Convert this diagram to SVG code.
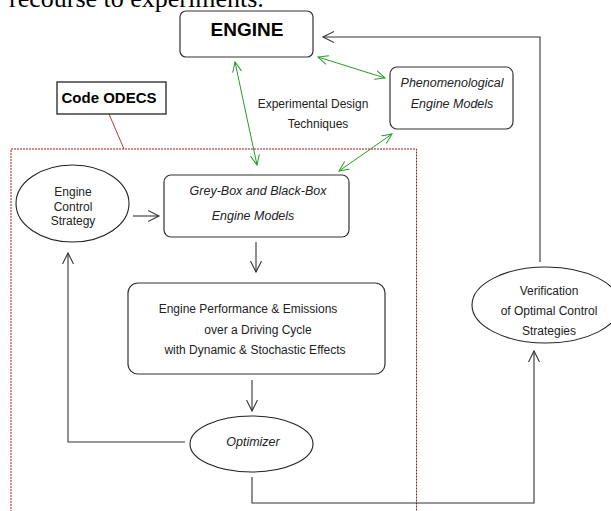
<svg xmlns="http://www.w3.org/2000/svg" width="611" height="511" viewBox="0 0 611 511">
<style>
.t{font-family:"Liberation Sans",Arial,sans-serif;font-size:12px;fill:#222;text-anchor:middle}
.i{font-style:italic;font-size:12.5px}
.b{font-weight:bold;fill:#000}
.box{fill:#fff;stroke:#333;stroke-width:1.2}
.ln{fill:none;stroke:#333;stroke-width:1.1}
.gr{fill:none;stroke:#2a9a2a;stroke-width:1}
</style>
<defs>
<marker id="ah" markerUnits="userSpaceOnUse" markerWidth="14" markerHeight="14" refX="11" refY="6" orient="auto">
<path d="M0,0.5 L11,6 L0,11.5" fill="none" stroke="#333" stroke-width="1.1"/>
</marker>
<marker id="gh" markerUnits="userSpaceOnUse" markerWidth="14" markerHeight="14" refX="10" refY="5" orient="auto-start-reverse">
<path d="M0,0.5 L10,5 L0,9.5" fill="none" stroke="#2a9a2a" stroke-width="1"/>
</marker>
</defs>
<rect width="611" height="511" fill="#fff"/>
<text x="9" y="7" style="font-family:'Liberation Serif','Times New Roman',serif;font-size:26px;fill:#000">recourse to experiments.</text>

<g id="odecs-frame">
<rect x="11" y="149" width="405.5" height="400" fill="none" stroke="#a01818" stroke-width="1" stroke-dasharray="2,1"/>
<line x1="109" y1="114" x2="124" y2="149" stroke="#a52a2a" stroke-width="0.9"/>
</g>

<g id="connectors">
<polyline class="ln" points="540,262 540,37 323,37" marker-end="url(#ah)"/>
<line class="ln" x1="133" y1="216" x2="159" y2="216" marker-end="url(#ah)"/>
<line class="ln" x1="256" y1="242" x2="256" y2="272" marker-end="url(#ah)"/>
<line class="ln" x1="252" y1="380" x2="252" y2="411" marker-end="url(#ah)"/>
<polyline class="ln" points="185,442 68,442 68,253" marker-end="url(#ah)"/>
<polyline class="ln" points="252,477 252,503 534,503 534,351" marker-end="url(#ah)"/>
<line class="gr" x1="235" y1="62" x2="257" y2="165" marker-start="url(#gh)" marker-end="url(#gh)"/>
<line class="gr" x1="318" y1="57" x2="385" y2="78" marker-start="url(#gh)" marker-end="url(#gh)"/>
<line class="gr" x1="339" y1="171" x2="392" y2="134" marker-start="url(#gh)" marker-end="url(#gh)"/>
</g>

<g id="engine">
<rect class="box" x="180" y="11" width="133" height="46" rx="6"/>
<text class="t b" x="247" y="36" style="font-size:19px">ENGINE</text>
</g>

<g id="code-odecs">
<rect x="57" y="82" width="109" height="32" fill="#fff" stroke="#333" stroke-width="1.4"/>
<text class="t b" x="109" y="103" style="font-size:15px">Code ODECS</text>
</g>

<g id="phenomenological">
<rect class="box" x="390" y="67" width="123" height="62" rx="7"/>
<text class="t i" x="452" y="87">Phenomenological</text>
<text class="t i" x="452" y="108">Engine Models</text>
</g>

<g id="experimental-design">
<text class="t" x="313" y="108">Experimental Design</text>
<text class="t" x="318" y="128">Techniques</text>
</g>

<g id="engine-control-strategy">
<ellipse cx="72.5" cy="203.5" rx="56.5" ry="38.5" fill="#fff" stroke="#222" stroke-width="1.1"/>
<text class="t" x="73" y="196">Engine</text>
<text class="t" x="73" y="210.5">Control</text>
<text class="t" x="73" y="225">Strategy</text>
</g>

<g id="grey-black-box">
<rect class="box" x="164" y="175" width="185" height="62" rx="7"/>
<text class="t i" x="258" y="195">Grey-Box and Black-Box</text>
<text class="t i" x="253" y="220">Engine Models</text>
</g>

<g id="performance">
<rect class="box" x="128" y="283" width="257" height="91" rx="10"/>
<text class="t" x="248" y="313">Engine Performance &amp; Emissions</text>
<text class="t" x="258" y="334">over a Driving Cycle</text>
<text class="t" x="255" y="354">with Dynamic &amp; Stochastic Effects</text>
</g>

<g id="optimizer">
<ellipse cx="251.5" cy="444" rx="61.5" ry="28" fill="#fff" stroke="#222" stroke-width="1.1"/>
<text class="t i" x="253" y="446">Optimizer</text>
</g>

<g id="verification">
<ellipse cx="546" cy="305" rx="74" ry="38" fill="#fff" stroke="#222" stroke-width="1.1"/>
<text class="t" x="549" y="294.5">Verification</text>
<text class="t" x="549" y="314.5">of Optimal Control</text>
<text class="t" x="549" y="335">Strategies</text>
</g>
</svg>
